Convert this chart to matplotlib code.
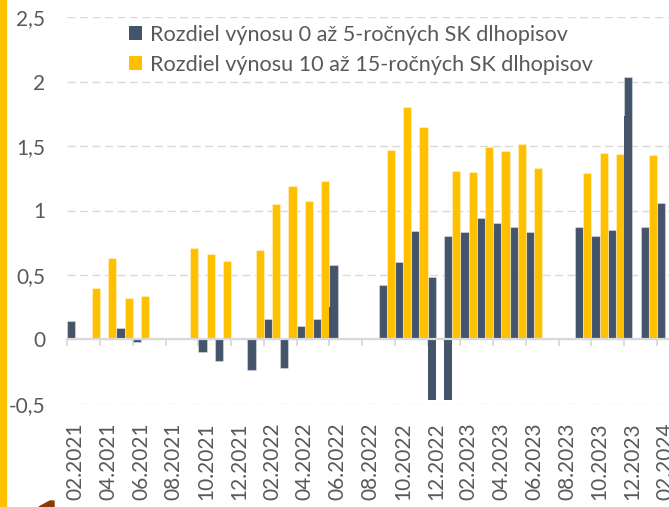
import numpy as np
import matplotlib
matplotlib.use('Agg')
import matplotlib.pyplot as plt
from matplotlib.patches import Rectangle, Polygon, Patch

nan = np.nan

months = ['02.2021', '03.2021', '04.2021', '05.2021', '06.2021', '07.2021',
          '08.2021', '09.2021', '10.2021', '11.2021', '12.2021', '01.2022',
          '02.2022', '03.2022', '04.2022', '05.2022', '06.2022', '07.2022',
          '08.2022', '09.2022', '10.2022', '11.2022', '12.2022', '01.2023',
          '02.2023', '03.2023', '04.2023', '05.2023', '06.2023', '07.2023',
          '08.2023', '09.2023', '10.2023', '11.2023', '12.2023', '01.2024',
          '02.2024']

# 0-5y spread
spread_short = [0.14, nan, nan, 0.09, -0.02, nan,
                nan, nan, -0.10, -0.17, nan, -0.24,
                0.16, -0.22, 0.10, 0.16, 0.58, nan,
                nan, 0.42, 0.60, 0.84, 0.48, 0.80,
                0.83, 0.94, 0.90, 0.87, 0.83, nan,
                nan, 0.87, 0.80, 0.85, 2.04, 0.87,
                1.06]
# overlapping second values of the 0-5y series
spread_short_b = [nan] * 16 + [0.25] + [nan] * 5 + [-0.47, -0.47] + [nan] * 10 + [1.73] + [nan] * 2
# 10-15y spread
spread_long = [nan, 0.40, 0.63, 0.32, 0.34, nan,
               nan, 0.71, 0.66, 0.61, nan, 0.69,
               1.05, 1.19, 1.07, 1.23, nan, nan,
               nan, 1.47, 1.80, 1.65, nan, 1.31,
               1.30, 1.49, 1.46, 1.52, 1.33, nan,
               nan, 1.29, 1.45, 1.44, nan, 1.43,
               nan]

y_ticks = [-0.5, 0, 0.5, 1, 1.5, 2, 2.5]
y_labels = ['-0,5', '0', '0,5', '1', '1,5', '2', '2,5']

dark = '#44546a'
yellow = '#ffc000'
grey = '#d9d9d9'
txt = '#595959'

plt.rcParams['font.family'] = ['Lato', 'DejaVu Sans']
plt.rcParams['lines.scale_dashes'] = False

W, H = 669, 507
fig = plt.figure(figsize=(W / 100, H / 100), dpi=100)
ax = fig.add_axes([67.3 / W, (H - 404) / H, 1 - 67.3 / W, (404 - 17) / H])

x = np.arange(len(months))
ax.bar(x - 0.25, spread_short, width=0.5, color=dark,
       edgecolor=(1, 1, 1, 0.35), linewidth=0.8, zorder=2)
ax.bar(x + 0.25, spread_long, width=0.5, color=yellow,
       edgecolor=(1, 1, 1, 0.35), linewidth=0.8, zorder=2)
ax.bar(x - 0.25, spread_short_b, width=0.5, color=dark, linewidth=0, zorder=2.1)

ax.set_xlim(-0.5, -0.5 + (W - 67.3) / 16.38)
ax.set_ylim(-0.502, 2.502)

ax.set_yticks(y_ticks, y_labels)
ax.tick_params(axis='y', length=0, pad=16, labelsize=15, labelcolor=txt)
ax.yaxis.grid(True, color=grey, linewidth=1.0, linestyle=(0, (5.8, 3.2)))
ax.set_axisbelow(True)

for s in ['left', 'top', 'right']:
    ax.spines[s].set_visible(False)
ax.spines['bottom'].set_position(('data', 0))
ax.spines['bottom'].set_color(grey)
ax.spines['bottom'].set_linewidth(1.6)
ax.spines['bottom'].set_zorder(5)

# tick marks on the zero line, labels at the bottom
ax.set_xticks(x[::2] - 0.5, [''] * len(x[::2]))
ax.tick_params(axis='x', length=5, width=1.3, color=grey)

sec = ax.secondary_xaxis('bottom')
sec.set_xticks(x[::2], months[::2], rotation=90)
sec.tick_params(axis='x', length=0, pad=13, labelsize=15, labelcolor=txt)
sec.spines['bottom'].set_visible(False)

handles = [Patch(facecolor=dark, edgecolor='none'), Patch(facecolor=yellow, edgecolor='none')]
labels = ['Rozdiel výnosu 0 až 5-ročných SK dlhopisov',
          'Rozdiel výnosu 10 až 15-ročných SK dlhopisov']
leg = ax.legend(handles, labels, loc='upper left',
                bbox_to_anchor=(129 / W, 1 - 25 / H), bbox_transform=fig.transFigure,
                frameon=False, fontsize=15.6, borderpad=0, borderaxespad=0,
                handlelength=0.6, handleheight=0.6, handletextpad=0.35,
                labelspacing=0.45)
for t in leg.get_texts():
    t.set_color(txt)

# left accent strip and corner mark
fig.patches.append(Rectangle((0, 0), 6 / W, 1, transform=fig.transFigure,
                             color=yellow, zorder=0))
fig.patches.append(Polygon([(39 / W, 0), (50 / W, 6 / H), (54 / W, 6 / H), (54 / W, 0)],
                           closed=True, transform=fig.transFigure,
                           color='#8b3a0a', zorder=0))

fig.savefig('out.png', dpi=100)
